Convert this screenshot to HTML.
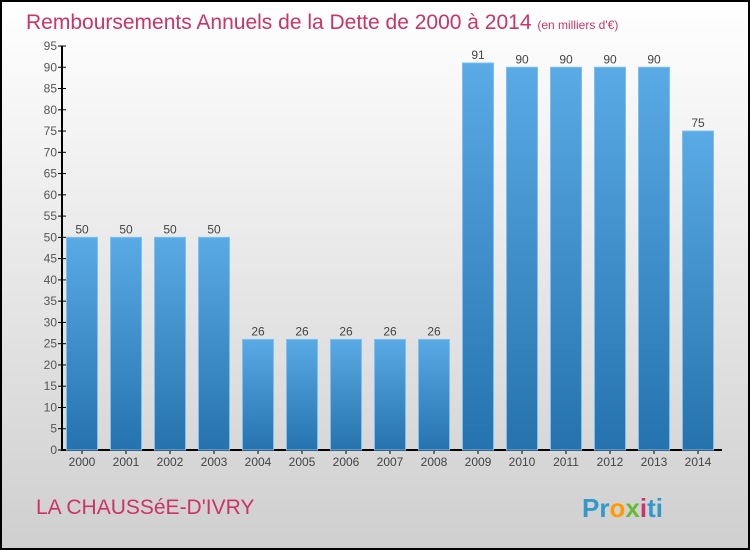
<!DOCTYPE html>
<html><head><meta charset="utf-8"><style>
body{margin:0}
svg{display:block;font-family:"Liberation Sans",sans-serif}
</style></head><body>
<svg width="750" height="550">
<defs>
<linearGradient id="bg" x1="0" y1="0" x2="0" y2="1"><stop offset="0" stop-color="#ffffff"/><stop offset="1" stop-color="#cfcfcf"/></linearGradient>
<linearGradient id="bar" x1="0" y1="0" x2="0" y2="1"><stop offset="0" stop-color="#5aaae6"/><stop offset="1" stop-color="#2572ae"/></linearGradient>
</defs>
<rect x="1" y="1" width="748" height="548" fill="url(#bg)" stroke="#000" stroke-width="2"/>
<text x="26" y="29" font-size="21" fill="#cc3366">Remboursements Annuels de la Dette de 2000 à 2014 <tspan font-size="12">(en milliers d'€)</tspan></text>
<g id="axes"></g>
<g id="bars"></g>
<text x="36" y="514" font-size="21" fill="#cc3366">LA CHAUSSéE-D'IVRY</text>
<text x="582" y="517" font-size="26" font-weight="bold" fill="#3399cc">Pr<tspan fill="#ff9900">o</tspan><tspan fill="#66bb33">x</tspan><tspan fill="#cc3366">i</tspan>ti</text>
</svg>
<script>
const categories=["2000","2001","2002","2003","2004","2005","2006","2007","2008","2009","2010","2011","2012","2013","2014"];
const values=[50,50,50,50,26,26,26,26,26,91,90,90,90,90,75];
const yTicks=[0,5,10,15,20,25,30,35,40,45,50,55,60,65,70,75,80,85,90,95];
const NS="http://www.w3.org/2000/svg";
const x0=62,y0=450,pxPer=404/95,step=44,firstC=82,bw=31;
const y=v=>y0-v*pxPer, xc=i=>firstC+i*step;
function mk(t,a,p){const e=document.createElementNS(NS,t);for(const k in a)e.setAttribute(k,a[k]);p.appendChild(e);return e;}
const ax=document.getElementById('axes'),bg=document.getElementById('bars');
const yl=mk('line',{x1:x0,y1:y(95),x2:x0,y2:y0,stroke:'#000','stroke-width':2},ax);


const xl=mk('line',{x1:x0-1,y1:y0,x2:722,y2:y0,stroke:'#000','stroke-width':2},ax);


yTicks.forEach(v=>{
  mk('line',{x1:x0-4,x2:x0+4,y1:y(v),y2:y(v),stroke:'#000'},ax);
  const t=mk('text',{x:x0-5,y:y(v)+4,'font-size':12,fill:'#555','text-anchor':'end'},ax);t.textContent=v;
  
  
});
categories.forEach((c,i)=>{
  mk('line',{x1:xc(i),x2:xc(i),y1:y0,y2:y0+4,stroke:'#000'},ax);
  const t=mk('text',{x:xc(i),y:y0+16,'font-size':12,fill:'#444','text-anchor':'middle'},ax);t.textContent=c;
  
  
  const r=mk('rect',{x:xc(i)-bw/2,y:y(values[i]),width:bw,height:y0-y(values[i]),fill:'url(#bar)',stroke:'#7cc0ee','stroke-width':1},bg);
  
  
  const l=mk('text',{x:xc(i),y:y(values[i])-4,'font-size':12,fill:'#444','text-anchor':'middle'},bg);l.textContent=values[i];
  
  
});
</script>
</body></html>
